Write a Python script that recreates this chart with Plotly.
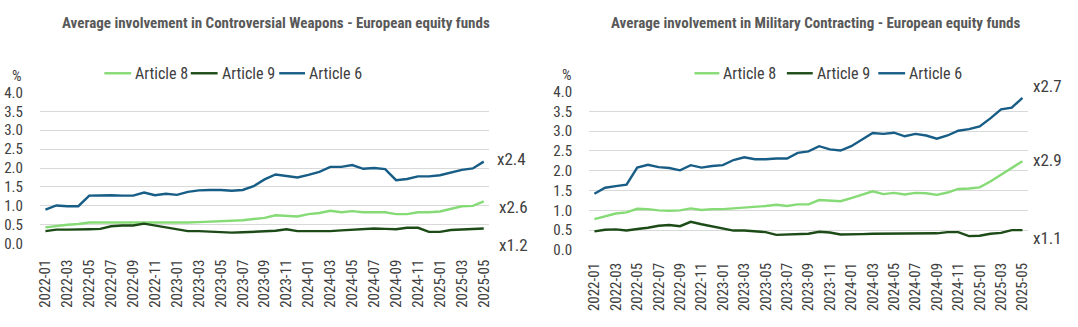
import plotly.graph_objects as go

months = [
    "2022-01", "2022-02", "2022-03", "2022-04", "2022-05", "2022-06", "2022-07", "2022-08",
    "2022-09", "2022-10", "2022-11", "2022-12", "2023-01", "2023-02", "2023-03", "2023-04",
    "2023-05", "2023-06", "2023-07", "2023-08", "2023-09", "2023-10", "2023-11", "2023-12",
    "2024-01", "2024-02", "2024-03", "2024-04", "2024-05", "2024-06", "2024-07", "2024-08",
    "2024-09", "2024-10", "2024-11", "2024-12", "2025-01", "2025-02", "2025-03", "2025-04",
    "2025-05",
]
tick_months = months[::2]

# Controversial Weapons (left chart)
cw_art8 = [0.43, 0.47, 0.50, 0.52, 0.56, 0.56, 0.56, 0.55, 0.55, 0.54, 0.54, 0.55, 0.55, 0.56,
           0.57, 0.58, 0.60, 0.62, 0.62, 0.65, 0.68, 0.75, 0.74, 0.72, 0.78, 0.81, 0.87, 0.83,
           0.86, 0.83, 0.83, 0.83, 0.78, 0.78, 0.83, 0.83, 0.85, 0.92, 0.99, 1.00, 1.12]
cw_art9 = [0.33, 0.37, 0.37, 0.37, 0.38, 0.39, 0.46, 0.48, 0.48, 0.53, 0.48, 0.43, 0.40, 0.33,
           0.33, 0.32, 0.32, 0.29, 0.30, 0.31, 0.33, 0.34, 0.38, 0.33, 0.33, 0.33, 0.33, 0.35,
           0.37, 0.40, 0.40, 0.39, 0.38, 0.42, 0.42, 0.31, 0.31, 0.36, 0.37, 0.38, 0.40]
cw_art6 = [0.90, 1.01, 0.99, 0.99, 1.27, 1.28, 1.28, 1.27, 1.27, 1.35, 1.28, 1.32, 1.29, 1.37,
           1.41, 1.42, 1.42, 1.40, 1.42, 1.52, 1.70, 1.83, 1.79, 1.75, 1.82, 1.90, 2.03, 2.03,
           2.08, 1.98, 2.00, 1.97, 1.68, 1.71, 1.78, 1.78, 1.81, 1.88, 1.95, 1.99, 2.17]

# Military Contracting (right chart)
mc_art8 = [0.78, 0.85, 0.92, 0.95, 1.04, 1.03, 1.00, 0.99, 1.00, 1.05, 1.01, 1.03, 1.03, 1.05,
           1.07, 1.08, 1.11, 1.14, 1.11, 1.15, 1.15, 1.26, 1.25, 1.23, 1.31, 1.39, 1.48, 1.41,
           1.44, 1.40, 1.44, 1.43, 1.39, 1.45, 1.54, 1.55, 1.58, 1.73, 1.90, 2.09, 2.24]
mc_art9 = [0.47, 0.51, 0.52, 0.49, 0.53, 0.56, 0.61, 0.63, 0.60, 0.71, 0.65, 0.60, 0.55, 0.49,
           0.49, 0.47, 0.45, 0.38, 0.39, 0.41, 0.41, 0.46, 0.44, 0.39, 0.39, 0.40, 0.41, 0.41,
           0.42, 0.42, 0.41, 0.41, 0.42, 0.45, 0.45, 0.35, 0.36, 0.41, 0.43, 0.50, 0.50]
mc_art6 = [1.42, 1.57, 1.61, 1.65, 2.08, 2.15, 2.09, 2.07, 2.01, 2.14, 2.08, 2.12, 2.14, 2.27,
           2.34, 2.29, 2.29, 2.31, 2.31, 2.45, 2.49, 2.62, 2.54, 2.51, 2.62, 2.78, 2.95, 2.93,
           2.96, 2.87, 2.93, 2.89, 2.81, 2.89, 3.01, 3.05, 3.12, 3.32, 3.55, 3.59, 3.84]

series_names = ["Article 8", "Article 9", "Article 6"]
series_colors = ["#86DB76", "#1C4B17", "#175D86"]

titles = ["Average involvement in Controversial Weapons - European equity funds",
          "Average involvement in Military Contracting - European equity funds"]

cw_ratio_labels = ["x2.4", "x2.6", "x1.2"]
mc_ratio_labels = ["x2.7", "x2.9", "x1.1"]

FONT = "Liberation Sans Narrow, Roboto Condensed, Arial Narrow, DejaVu Sans Condensed, sans-serif"
TXT = "#404040"
GRID = "#D9D9D9"
LW = 2.4

fig = go.Figure()
for name, vals, color in zip(series_names, [cw_art8, cw_art9, cw_art6], series_colors):
    fig.add_trace(go.Scatter(x=months, y=vals, mode="lines", name=name,
                             line=dict(color=color, width=LW),
                             xaxis="x", yaxis="y", showlegend=False))
for name, vals, color in zip(series_names, [mc_art8, mc_art9, mc_art6], series_colors):
    fig.add_trace(go.Scatter(x=months, y=vals, mode="lines", name=name,
                             line=dict(color=color, width=LW),
                             xaxis="x2", yaxis="y2", showlegend=False))

W, H = 1078, 327

def px_x(p):
    return p / W

def px_y(p):
    return 1 - p / H

xcommon = dict(type="category", categoryorder="array", categoryarray=months,
               range=[-0.5, len(months) - 0.5], tickmode="array", tickvals=tick_months,
               ticktext=tick_months, tickangle=-90, showgrid=False, zeroline=False,
               showline=False, ticks="",
               tickfont=dict(family=FONT, size=15, color=TXT))
ycommon = dict(range=[0, 4], dtick=0.5, tick0=0, tickformat=".1f", showgrid=True,
               gridcolor=GRID, gridwidth=1, zeroline=False, showline=False, ticks="",
               ticklabelstandoff=16, tickfont=dict(family=FONT, size=15, color=TXT))

fig.update_layout(
    width=W, height=H,
    margin=dict(l=0, r=0, t=0, b=0),
    paper_bgcolor="white", plot_bgcolor="white",
    font=dict(family=FONT, size=15, color=TXT),
    xaxis=dict(domain=[px_x(36.2), px_x(488.4)], anchor="y", ticklabelstandoff=12, **xcommon),
    yaxis=dict(domain=[px_y(248.3), px_y(88.3)], anchor="x", **ycommon),
    xaxis2=dict(domain=[px_x(588.9), px_x(1030.5)], anchor="y2", ticklabelstandoff=9, **xcommon),
    yaxis2=dict(domain=[px_y(255.0), px_y(87.3)], anchor="x2", **ycommon),
    showlegend=False,
)

annotations = [
    dict(text="<b>" + titles[0] + "</b>", xref="paper", yref="paper", x=px_x(274), y=px_y(15),
         xanchor="center", yanchor="middle", showarrow=False,
         font=dict(family=FONT, size=15, color="#595959")),
    dict(text="<b>" + titles[1] + "</b>", xref="paper", yref="paper", x=px_x(817), y=px_y(15),
         xanchor="center", yanchor="middle", showarrow=False,
         font=dict(family=FONT, size=15, color="#595959")),
    dict(text="%", xref="paper", yref="paper", x=px_x(13), y=px_y(71), xanchor="center",
         yanchor="middle", showarrow=False, font=dict(family=FONT, size=15, color=TXT)),
    dict(text="%", xref="paper", yref="paper", x=px_x(567), y=px_y(70), xanchor="center",
         yanchor="middle", showarrow=False, font=dict(family=FONT, size=15, color=TXT)),
]

# hand-drawn legends (one per panel)
shapes = []
legend_rows = [
    (68, [(101, 128, 130), (188, 215, 217), (277, 303, 305)]),
    (68, [(695, 720, 722), (788, 814, 816), (880, 907, 909)]),
]
for ly, items in legend_rows:
    for (x0, x1, tx), name, color in zip(items, series_names, series_colors):
        shapes.append(dict(type="line", xref="paper", yref="paper",
                           x0=px_x(x0), x1=px_x(x1), y0=px_y(ly), y1=px_y(ly),
                           line=dict(color=color, width=LW)))
        annotations.append(dict(text=name, xref="paper", yref="paper", x=px_x(tx), y=px_y(ly),
                                xanchor="left", yanchor="middle", showarrow=False,
                                font=dict(family=FONT, size=16, color=TXT)))

cw_label_px = [(494, 159), (496, 210), (496, 250)]
mc_label_px = [(1034, 82), (1034, 160), (1034, 242)]
for lab, (lx, ly) in zip(cw_ratio_labels + mc_ratio_labels, cw_label_px + mc_label_px):
    annotations.append(dict(text=lab, xref="paper", yref="paper", x=px_x(lx), y=px_y(ly),
                            xanchor="left", yanchor="middle", showarrow=False,
                            font=dict(family=FONT, size=17, color=TXT)))
fig.update_layout(annotations=annotations, shapes=shapes)

fig.write_html("out.html")
